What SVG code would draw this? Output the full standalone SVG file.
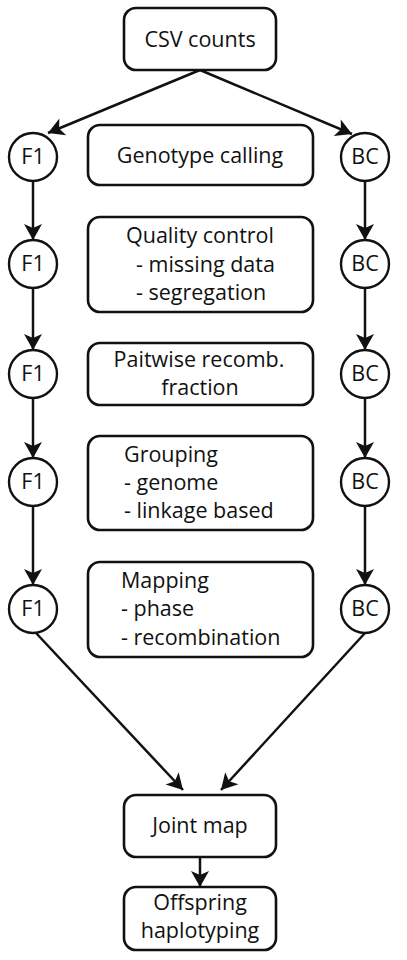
<svg xmlns="http://www.w3.org/2000/svg" width="407" height="960" viewBox="0 0 407 960">
<style>
.box{fill:#fff;stroke:#111;stroke-width:2.6}
.c{fill:#fff;stroke:#111;stroke-width:2.4}
.t{font-family:"Open Sans","Noto Sans",sans-serif;font-size:21.5px;fill:#111}
.m{text-anchor:middle}
.e{stroke:#111;stroke-width:2.5;fill:none;marker-end:url(#ah)}
</style>
<defs>
<marker id="ah" markerUnits="userSpaceOnUse" viewBox="-17 -10 18 20" refX="0" refY="0" markerWidth="18" markerHeight="20" orient="auto">
<path d="M0,0 L-16,-9 L-12,0 L-16,9 Z" fill="#111"/>
</marker>
</defs>
<g id="connectors">
<line class="e" x1="200" y1="70" x2="48" y2="133"/>
<line class="e" x1="200" y1="70" x2="352" y2="134"/>
<line class="e" x1="33" y1="181" x2="33" y2="240"/>
<line class="e" x1="33" y1="288" x2="33" y2="350"/>
<line class="e" x1="33" y1="398" x2="33" y2="458"/>
<line class="e" x1="33" y1="506" x2="33" y2="585"/>
<line class="e" x1="365" y1="181" x2="365" y2="240"/>
<line class="e" x1="365" y1="288" x2="365" y2="350"/>
<line class="e" x1="365" y1="398" x2="365" y2="458"/>
<line class="e" x1="365" y1="506" x2="365" y2="585"/>
<line class="e" x1="36" y1="633" x2="183" y2="790"/>
<line class="e" x1="365" y1="633" x2="221" y2="790"/>
<line class="e" x1="200" y1="857" x2="200" y2="887"/>
</g>
<g id="csv"><rect class="box" x="124" y="8" width="152" height="62" rx="12"/><text class="t m" x="200" y="47">CSV counts</text></g>
<g id="geno"><rect class="box" x="88" y="125" width="225" height="60" rx="12"/><text class="t m" x="200" y="163">Genotype calling</text></g>
<g id="qc"><rect class="box" x="88" y="217" width="225" height="95" rx="12"/><text class="t m" x="200" y="243">Quality control</text><text class="t" x="136" y="272">- missing data</text><text class="t" x="136" y="300">- segregation</text></g>
<g id="pair"><rect class="box" x="88" y="343" width="225" height="62" rx="12"/><text class="t m" x="199" y="367">Paitwise recomb.</text><text class="t m" x="200" y="395">fraction</text></g>
<g id="group"><rect class="box" x="88" y="436" width="225" height="94" rx="12"/><text class="t" x="124" y="462">Grouping</text><text class="t" x="124" y="490">- genome</text><text class="t" x="124" y="518">- linkage based</text></g>
<g id="map"><rect class="box" x="88" y="562" width="225" height="95" rx="12"/><text class="t" x="121" y="588">Mapping</text><text class="t" x="121" y="616">- phase</text><text class="t" x="121" y="645">- recombination</text></g>
<g id="joint"><rect class="box" x="124" y="795" width="152" height="62" rx="12"/><text class="t m" x="200" y="833">Joint map</text></g>
<g id="offspring"><rect class="box" x="124" y="887" width="152" height="63" rx="12"/><text class="t m" x="200" y="910">Offspring</text><text class="t m" x="200" y="938">haplotyping</text></g>
<g id="f1a"><circle class="c" cx="33" cy="157" r="24"/><text class="t m" x="33" y="164">F1</text></g>
<g id="f1b"><circle class="c" cx="33" cy="264" r="24"/><text class="t m" x="33" y="271">F1</text></g>
<g id="f1c"><circle class="c" cx="33" cy="374" r="24"/><text class="t m" x="33" y="381">F1</text></g>
<g id="f1d"><circle class="c" cx="33" cy="482" r="24"/><text class="t m" x="33" y="489">F1</text></g>
<g id="f1e"><circle class="c" cx="33" cy="609" r="24"/><text class="t m" x="33" y="616">F1</text></g>
<g id="bca"><circle class="c" cx="365" cy="157" r="24"/><text class="t m" x="365" y="164">BC</text></g>
<g id="bcb"><circle class="c" cx="365" cy="264" r="24"/><text class="t m" x="365" y="271">BC</text></g>
<g id="bcc"><circle class="c" cx="365" cy="374" r="24"/><text class="t m" x="365" y="381">BC</text></g>
<g id="bcd"><circle class="c" cx="365" cy="482" r="24"/><text class="t m" x="365" y="489">BC</text></g>
<g id="bce"><circle class="c" cx="365" cy="609" r="24"/><text class="t m" x="365" y="616">BC</text></g>
</svg>
